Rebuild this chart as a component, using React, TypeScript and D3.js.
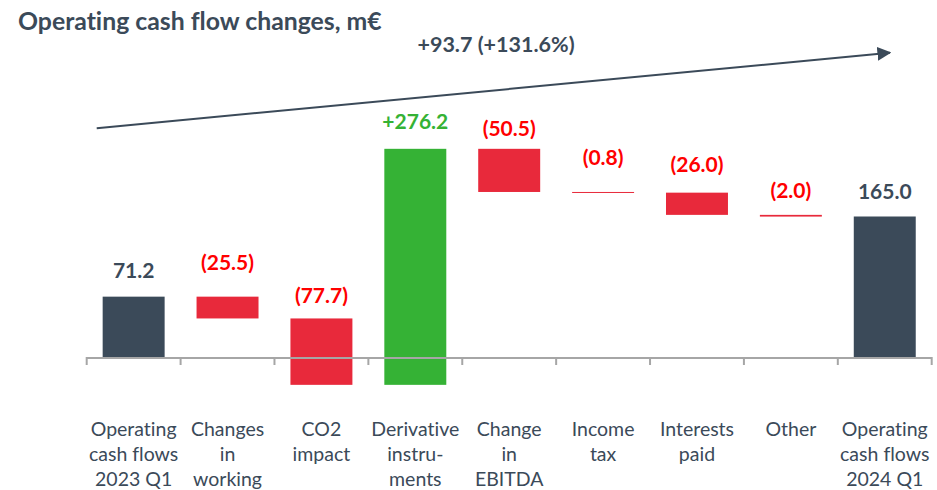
import React from "react";
import * as d3 from "d3";

const categories = [
  ["Operating", "cash flows", "2023 Q1"],
  ["Changes", "in", "working"],
  ["CO2", "impact"],
  ["Derivative", "instru-", "ments"],
  ["Change", "in", "EBITDA"],
  ["Income", "tax"],
  ["Interests", "paid"],
  ["Other"],
  ["Operating", "cash flows", "2024 Q1"],
];
const values = [71.2, -25.5, -77.7, 276.2, -50.5, -0.8, -26.0, -2.0, 165.0];
const kinds = ["total", "delta", "delta", "delta", "delta", "delta", "delta", "delta", "total"];
const valueLabels = ["71.2", "(25.5)", "(77.7)", "+276.2", "(50.5)", "(0.8)", "(26.0)", "(2.0)", "165.0"];
const labelLift = [19, 27, 15, 19.5, 13, 26.5, 21, 17, 18];
const title = "Operating cash flow changes, m€";
const changeLabel = "+93.7 (+131.6%)";

const W = 937;
const H = 490;
const DARK = "#3b4a59";
const RED = "#e8293b";
const GREEN = "#35b235";
const FONT = "Lato, 'Open Sans', sans-serif";

export default function App() {
  const x = d3
    .scaleBand<number>()
    .domain(values.map((_, i) => i))
    .range([86.7, 931.7])
    .paddingInner(0.34)
    .paddingOuter(0.17);
  const y = d3.scaleLinear().domain([0, 165]).range([357.5, 216.5]);

  let running = 0;
  const bars = values.map((v, i) => {
    let start: number, end: number;
    if (kinds[i] === "total") {
      start = 0;
      end = v;
      running = v;
    } else {
      start = running;
      end = running + v;
      running = end;
    }
    const top = y(Math.max(start, end));
    const bottom = y(Math.min(start, end));
    const color = kinds[i] === "total" ? DARK : v >= 0 ? GREEN : RED;
    const textColor = kinds[i] === "total" ? DARK : v >= 0 ? GREEN : "#ff0000";
    return { i, top, height: Math.max(bottom - top, 1), color, textColor };
  });

  const step = x.step();
  const x0 = 86.7;
  const ticks = d3.range(values.length + 1).map((k) => x0 + k * step);

  return (
    <svg
      width={W}
      height={H}
      style={{ position: "absolute", left: 0, top: 0, background: "#fff", fontVariantLigatures: "none" }}
      fontFamily={FONT}
    >
      <defs>
        <marker id="arr" viewBox="0 0 10 10" refX="9" refY="5" markerWidth="7" markerHeight="7.5" markerUnits="strokeWidth" orient="auto">
          <path d="M0,0 L10,5 L0,10 Z" fill={DARK} />
        </marker>
      </defs>
      <text x={18} y={30} fontSize={24.8} fontWeight={700} fill={DARK}>
        {title}
      </text>
      <text x={496} y={51.5} fontSize={21.5} fontWeight={700} fill={DARK} textAnchor="middle">
        {changeLabel}
      </text>
      <line x1={96.7} y1={128.3} x2={890} y2={52.7} stroke={DARK} strokeWidth={2} markerEnd="url(#arr)" />

      {bars.map((b) => (
        <rect key={b.i} x={x(b.i)} y={b.top} width={x.bandwidth()} height={b.height} fill={b.color} />
      ))}

      <line x1={ticks[0]} x2={ticks[ticks.length - 1]} y1={358} y2={358} stroke="#a6a6a6" strokeWidth={2} />
      {ticks.map((t, k) => (
        <line key={k} x1={t} x2={t} y1={357} y2={365} stroke="#a6a6a6" strokeWidth={2} />
      ))}

      {bars.map((b) => (
        <text
          key={b.i}
          x={(x(b.i) as number) + x.bandwidth() / 2}
          y={b.top - labelLift[b.i]}
          textAnchor="middle"
          fontSize={21}
          fontWeight={700}
          fill={b.textColor}
        >
          {valueLabels[b.i]}
        </text>
      ))}

      {categories.map((lines, i) => (
        <text
          key={i}
          x={(x(i) as number) + x.bandwidth() / 2}
          y={436}
          textAnchor="middle"
          fontSize={19.5}
          fill={DARK}
        >
          {lines.map((l, k) => (
            <tspan key={k} x={(x(i) as number) + x.bandwidth() / 2} dy={k === 0 ? 0 : 25}>
              {l}
            </tspan>
          ))}
        </text>
      ))}
    </svg>
  );
}
